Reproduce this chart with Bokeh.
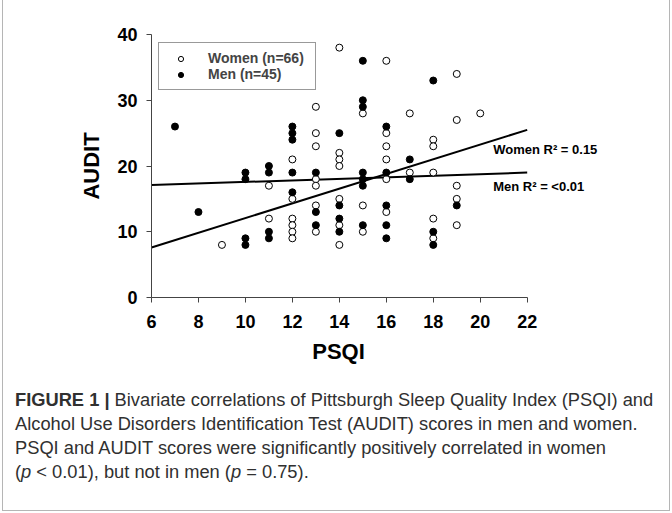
from bokeh.plotting import figure
from bokeh.models import Range1d, Label, Legend, LegendItem, Div, Title
from bokeh.layouts import column
from bokeh.embed import file_html
from bokeh.resources import INLINE

# ---------------- data ----------------
women_psqi = [9, 11, 11, 12, 12, 12, 12, 12, 12,
              13, 13, 13, 13, 13, 13, 13,
              14, 14, 14, 14, 14, 14, 14,
              15, 15, 15,
              16, 16, 16, 16, 16, 16,
              17, 17,
              18, 18, 18, 18, 18,
              19, 19, 19, 19, 19,
              20]
women_audit = [8, 17, 12, 21, 15, 12, 11, 10, 9,
               29, 25, 23, 18, 17, 14, 10,
               38, 22, 21, 20, 15, 11, 8,
               28, 14, 10,
               36, 25, 23, 21, 18, 13,
               28, 19,
               24, 23, 19, 12, 9,
               34, 27, 17, 15, 11,
               28]
men_psqi = [7, 8, 10, 10, 10, 10,
            11, 11, 11, 11,
            12, 12, 12, 12, 12,
            13, 13, 13,
            14, 14, 14, 14,
            15, 15, 15, 15, 15, 15, 15,
            16, 16, 16, 16, 16,
            17, 17,
            18, 18, 18,
            19]
men_audit = [26, 13, 19, 18, 9, 8,
             20, 19, 10, 9,
             26, 25, 24, 19, 16,
             19, 13, 11,
             25, 14, 12, 10,
             36, 30, 29, 19, 18, 17, 11,
             26, 19, 14, 11, 9,
             21, 18,
             33, 10, 8,
             14]
trend_psqi = [6, 22]
women_trend = [7.6, 25.5]
men_trend = [17.1, 19.0]
x_ticks = [6, 8, 10, 12, 14, 16, 18, 20, 22]
y_ticks = [0, 10, 20, 30, 40]
x_title = "PSQI"
y_title = "AUDIT"
women_label = "Women (n=66)"
men_label = "Men (n=45)"
women_r2 = "Women R\u00b2 = 0.15"
men_r2 = "Men R\u00b2 = <0.01"
caption_html = ("<b>FIGURE 1 |</b> Bivariate correlations of Pittsburgh Sleep Quality Index (PSQI) and<br>"
                "Alcohol Use Disorders Identification Test (AUDIT) scores in men and women.<br>"
                "PSQI and AUDIT scores were significantly positively correlated in women<br>"
                "(<i>p</i> &lt; 0.01), but not in men (<i>p</i> = 0.75).")

# ---------------- layout ----------------
W = 672
H1 = 370          # chart part
H2 = 513 - H1     # caption part
ML, MR, MT, MB = 151, 12, 34, 73
FONT = "Liberation Sans"
SCALE = (526.7 - 151) / 16.0      # px per PSQI unit
fw = W - ML - MR
fh = H1 - MT - MB

p = figure(width=W, height=H1, x_range=Range1d(6, 6 + fw / SCALE), y_range=Range1d(0, 40),
           output_backend="svg", toolbar_location=None,
           min_border_left=ML, min_border_right=MR,
           min_border_top=MT, min_border_bottom=MB)
p.outline_line_color = None
p.grid.grid_line_color = None
p.background_fill_color = "white"
p.border_fill_color = "white"

def px2x(px):
    return 6 + (px - ML) / SCALE
def py2y(py):
    return (MT + fh - py) / fh * 40

for ax in (p.xaxis[0], p.yaxis[0]):
    ax.axis_line_color = "#444444"
    ax.axis_line_width = 1
    ax.major_tick_line_color = "#444444"
    ax.major_tick_out = 5
    ax.major_tick_in = 0
    ax.minor_tick_line_color = None
    ax.major_label_text_font = FONT
    ax.major_label_text_font_size = "18px"
    ax.major_label_text_font_style = "bold"
    ax.major_label_text_color = "black"
    ax.axis_label_text_font = FONT
    ax.axis_label_text_font_size = "22px"
    ax.axis_label_text_font_style = "bold"
    ax.axis_label_text_color = "black"

p.xaxis.ticker = x_ticks
p.yaxis.ticker = y_ticks
p.xaxis.bounds = (6, 22)
p.yaxis.axis_label = y_title
p.xaxis.major_label_standoff = 12
p.yaxis.major_label_standoff = 9
p.yaxis.axis_label_standoff = 10

# x-axis title, centred under the bounded axis (6..22)
xt_w = 0.667 + 0.667 + 0.778 + 0.278   # bold em widths of "PSQI"
p.add_layout(Title(text=x_title, align="left",
                   offset=(338 - ML) - xt_w * 22 / 2,
                   text_font=FONT, text_font_size="22px", text_font_style="bold",
                   text_color="black", standoff=13), "below")

# trend lines
p.line(trend_psqi, women_trend, line_color="black", line_width=2)
p.line(trend_psqi, men_trend, line_color="black", line_width=2)

rw = p.scatter(women_psqi, women_audit, marker="circle", size=7,
               fill_color="white", line_color="black", line_width=1)
rm = p.scatter(men_psqi, men_audit, marker="circle", size=7,
               fill_color="black", line_color="black", line_width=1)

legend = Legend(items=[LegendItem(label=women_label, renderers=[rw]),
                       LegendItem(label=men_label, renderers=[rm])],
                location=(7, 207), orientation="vertical",
                border_line_color="#333333", border_line_width=1,
                background_fill_color="white", background_fill_alpha=1,
                padding=7, spacing=0, margin=0,
                label_standoff=13, glyph_width=29, glyph_height=13,
                label_height=13, label_width=100, label_text_font=FONT,
                label_text_font_size="14px", label_text_font_style="bold")
p.add_layout(legend, "center")

for txt, py in ((women_r2, 149), (men_r2, 186)):
    p.add_layout(Label(x=px2x(492.7), y=py2y(py), text=txt, text_font=FONT,
                       text_font_size="13px", text_font_style="bold",
                       text_color="black", text_baseline="middle",
                       text_align="left"))

cap = Div(text=('<div style="position:relative; width:672px; height:%dpx;">'
                '<div style="position:absolute; left:2px; top:-%dpx; width:668px; height:%dpx; '
                'box-sizing:border-box; border-left:1px solid #b5b5b5; border-right:1px solid #b5b5b5; '
                'border-bottom:1px solid #b5b5b5; pointer-events:none;"></div>'
                '<div style="position:absolute; left:15px; top:18px; '
                'font-family:\'Liberation Sans\'; font-size:18.3px; line-height:24px; '
                'color:#303030; white-space:nowrap;">%s</div></div>')
               % (H2, H1, H1 + H2 - 2, caption_html),
          width=W, height=H2, margin=0)

layout = column(p, cap, spacing=0)
open("out.html", "w").write(file_html(layout, INLINE))
